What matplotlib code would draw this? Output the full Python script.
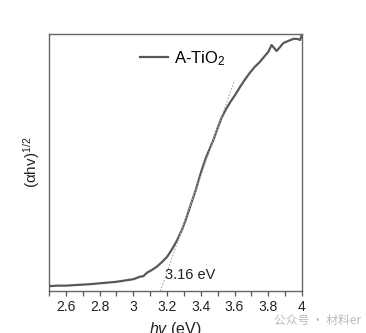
import matplotlib
matplotlib.use("Agg")
import matplotlib.pyplot as plt
from matplotlib.ticker import MultipleLocator, FuncFormatter

plt.rcParams['font.family'] = ['Liberation Sans', 'DejaVu Sans']
plt.rcParams['mathtext.fontset'] = 'custom'
plt.rcParams['mathtext.rm'] = 'Liberation Sans'
plt.rcParams['mathtext.it'] = 'Liberation Sans:italic'

# Tauc plot data for A-TiO2
hv = [2.50, 2.55, 2.60, 2.65, 2.70, 2.75, 2.80, 2.85, 2.90, 2.95,
      3.00, 3.02, 3.04, 3.06, 3.08, 3.11, 3.14, 3.17, 3.20, 3.23,
      3.26, 3.29, 3.31, 3.33, 3.35, 3.37, 3.40, 3.43, 3.475, 3.50,
      3.525, 3.55, 3.575, 3.60, 3.633, 3.66, 3.69, 3.72, 3.75, 3.77,
      3.80, 3.82, 3.85, 3.87, 3.89, 3.92, 3.95, 3.97, 3.99, 4.00]
ahv = [0.019, 0.021, 0.021, 0.023, 0.025, 0.027, 0.030, 0.033, 0.036, 0.041,
       0.046, 0.051, 0.056, 0.058, 0.071, 0.082, 0.095, 0.113, 0.133, 0.163,
       0.198, 0.241, 0.276, 0.315, 0.354, 0.393, 0.459, 0.518, 0.588, 0.634,
       0.677, 0.708, 0.735, 0.759, 0.794, 0.821, 0.848, 0.872, 0.891, 0.907,
       0.930, 0.957, 0.934, 0.949, 0.965, 0.973, 0.981, 0.981, 0.977, 1.000]

# linear fit of the absorption edge
band_gap = 3.16
fit_x = [band_gap, 3.60]
fit_y = [0.0, 0.821]

fig = plt.figure(figsize=(3.66, 3.33), dpi=100)
ax = fig.add_axes([0.134, 0.126, 0.691, 0.772])

ax.plot(hv, ahv, color='#585858', lw=1.6, label='A-TiO$_2$')
ax.plot(fit_x, fit_y, color='#aaaaaa', lw=0.8, ls=(0, (1.5, 1.5)))

ax.text(3.19, 0.062, f'{band_gap:.2f} eV', fontsize=10.5, va='center', color='#222222')

ax.set_xlim(2.5, 4.0)
ax.set_ylim(0, 1.0)
ax.xaxis.set_major_locator(MultipleLocator(0.2))
ax.xaxis.set_minor_locator(MultipleLocator(0.1))
ax.xaxis.set_major_formatter(FuncFormatter(lambda v, p: f'{v:g}'))
ax.tick_params(axis='x', which='both', direction='out', length=3.5, width=0.9,
               color='#555555', labelsize=10, labelcolor='#222222', pad=3)
ax.set_yticks([])

for s in ax.spines.values():
    s.set_color('#666666')
    s.set_linewidth(1.0)

ax.set_xlabel('$hv$ (eV)', fontsize=11.5, color='#222222', labelpad=4)
ax.set_ylabel(r'(αhv)$^{1/2}$', fontsize=11, color='#222222', labelpad=5)

leg = ax.legend(loc='upper left', bbox_to_anchor=(0.3, 1.0), frameon=False,
                fontsize=12, handlelength=1.7, handletextpad=0.35)

fig.text(0.75, 0.037, '公众号 · 材料er', fontsize=8.5, color='#bbbbbb',
         family=['Noto Sans CJK SC', 'DejaVu Sans'], va='center')

fig.savefig('out.png', dpi=100)
